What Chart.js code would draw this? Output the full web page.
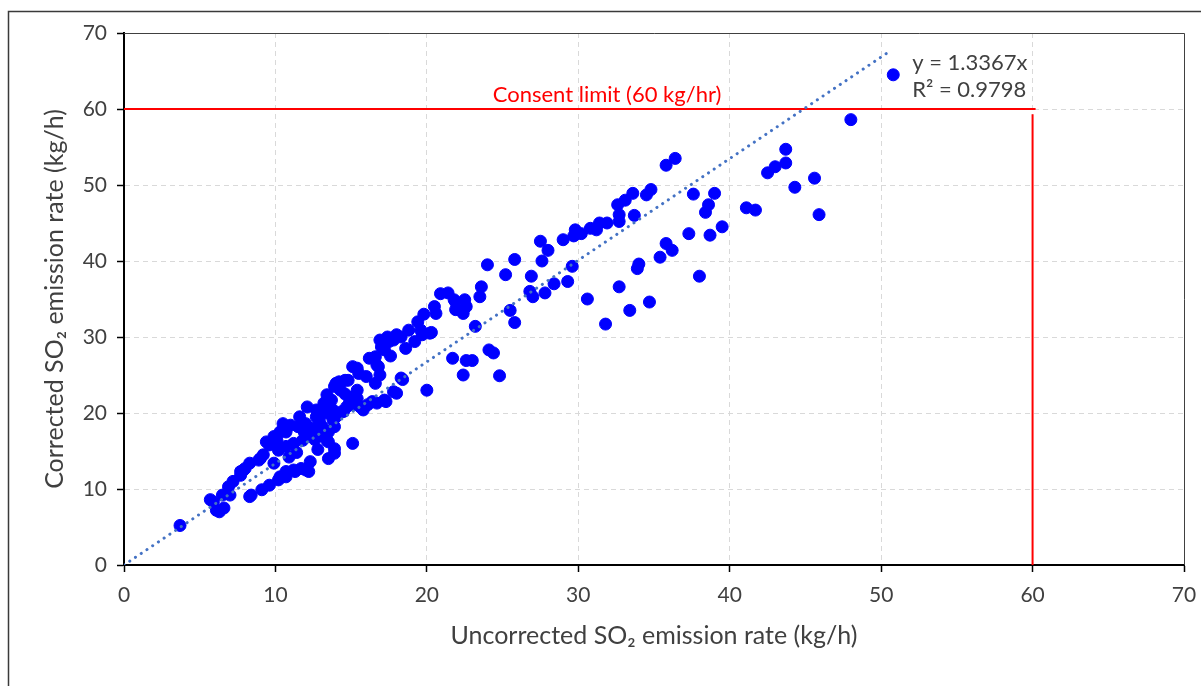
<!DOCTYPE html>
<html><head><meta charset="utf-8">
<script src="https://cdn.jsdelivr.net/npm/chart.js@4.4.1/dist/chart.umd.min.js"></script>
<style>
html,body{margin:0;padding:0;background:#fff;overflow:hidden;}
#wrap{position:relative;width:1201px;height:686px;}
</style></head><body>
<div id="wrap"><canvas id="c"></canvas></div>
<script>
// Uncorrected SO2 emission rate (kg/h)
const uncorrected = [3.7,5.7,5.9,6.1,6.3,6.6,6.5,6.9,7.0,7.2,7.7,7.7,7.9,8.0,8.3,8.3,8.4,8.9,9.0,9.1,9.2,9.4,9.6,9.6,9.9,9.9,
10.2,10.3,10.2,10.3,10.1,10.5,10.7,10.7,10.7,10.7,11.0,11.2,11.2,11.3,11.5,11.6,11.7,11.8,12.0,12.0,12.1,12.2,12.3,12.3,12.7,12.7,
13.1,13.1,13.2,13.4,13.4,13.4,13.5,13.5,13.5,13.7,13.8,13.9,13.9,13.9,13.9,14.2,14.3,14.4,14.7,14.8,15.1,15.1,15.1,15.1,15.4,15.5,
15.6,15.8,16.1,16.2,16.6,16.6,16.7,16.7,17.0,17.1,17.2,17.2,17.5,17.8,17.8,18.0,18.3,18.3,18.4,18.8,19.4,19.6,19.7,19.8,20.0,20.3,
20.5,20.6,20.9,21.4,21.7,21.8,21.9,21.9,22.4,22.4,22.5,22.6,22.6,23.0,23.2,23.5,23.6,24.0,24.1,24.4,24.8,25.2,25.5,25.8,25.8,26.8,
26.9,27.0,27.5,27.6,27.8,28.0,28.4,29.0,29.3,29.6,29.7,29.8,30.2,30.6,30.8,31.2,31.4,31.8,31.9,32.6,32.7,32.7,32.7,33.1,33.4,33.6,
33.7,33.9,34.0,34.5,34.7,34.8,35.4,35.8,35.8,36.2,36.4,37.3,37.6,38.0,38.4,38.6,38.7,39.0,39.5,41.1,41.7,42.5,43.0,43.7,43.7,44.3,
45.6,45.9,48.0,50.8,
12.5,12.9,11.9,13.0,14.0,12.6,11.4,10.9,12.8,14.6,16.0,15.4,16.9,17.6,18.6,19.2,
16.9,17.4,18.0,20.2,14.5,13.8,15.4,16.4,17.3,14.9,16.8,14.0,14.6];
// Corrected SO2 emission rate (kg/h)
const corrected = [5.2,8.6,8.3,7.2,7.0,7.5,9.2,10.3,9.2,11.0,11.8,12.3,12.5,12.7,13.4,9.0,9.2,13.8,14.0,9.9,14.5,16.2,10.5,15.8,16.9,13.4,
11.2,11.6,15.1,17.5,16.4,18.6,11.6,12.3,15.6,17.5,18.4,12.5,16.0,12.3,18.2,19.5,12.7,16.4,12.5,18.6,20.8,12.3,13.6,17.3,19.5,20.4,
18.2,20.6,21.3,22.4,16.4,20.0,14.0,16.2,17.5,21.7,20.4,14.7,15.3,18.2,23.5,24.1,23.0,20.2,20.8,24.3,16.0,21.1,22.1,26.1,25.9,25.2,
20.8,20.4,21.1,27.2,27.4,23.9,21.3,26.3,28.7,29.4,28.3,21.7,29.4,29.6,22.8,22.6,24.6,30.0,24.4,30.9,32.0,30.9,30.3,33.0,23.0,30.6,
34.0,33.1,35.7,35.8,27.2,34.9,33.6,34.6,33.1,25.0,34.9,34.0,26.9,26.9,31.4,35.3,36.6,39.5,28.3,27.9,24.9,38.2,33.5,31.9,40.2,36.0,
38.0,35.3,42.6,40.0,35.8,41.4,37.0,42.8,37.3,39.3,43.3,44.1,43.6,35.0,44.3,44.1,45.0,31.7,45.0,47.4,46.1,45.2,36.6,48.0,33.5,48.9,
46.0,39.0,39.6,48.7,34.6,49.4,40.5,42.3,52.6,41.4,53.5,43.6,48.8,38.0,46.4,47.4,43.4,48.9,44.5,47.0,46.7,51.6,52.4,52.9,54.7,49.7,
50.9,46.1,58.6,64.5,
18.0,19.0,17.5,17.0,19.5,16.5,14.8,14.2,15.2,22.5,24.8,23.0,25.0,27.5,28.5,29.4,
29.6,30.0,30.3,30.5,20.2,19.1,21.9,21.5,21.5,21.5,26.1,23.9,24.3];

const trendSlope = 1.3367;          // from the chart's trendline label
const trendX = [0, 50.4];           // extent of the drawn trendline
const consentLimit = 60;            // kg/hr
const limitLineEnd = 60.2;
const limitVerticalTop = 59.3;
const axisTicks = [0, 10, 20, 30, 40, 50, 60, 70];

const xTitle = 'Uncorrected SO\u2082 emission rate (kg/h)';
const yTitle = 'Corrected SO\u2082 emission rate (kg/h)';
const limitLabel = 'Consent limit (60 kg/hr)';
const eqLabels = ['y = 1.3367x', 'R\u00b2 = 0.9798'];

const TEXT = '#404040';
const FONT = 'Lato';

const points = uncorrected.map((x, i) => ({x: x, y: corrected[i]}));
const trendPts = trendX.map(x => ({x: x, y: x * trendSlope}));

const decor = {
  id: 'decor',
  beforeDraw(chart) {
    const ctx = chart.ctx;
    ctx.save();
    ctx.fillStyle = '#fff';
    ctx.fillRect(0, 0, chart.width, chart.height);
    ctx.strokeStyle = '#3a3a3a';
    ctx.lineWidth = 1.5;
    ctx.beginPath();
    ctx.moveTo(8.5, chart.height + 2);
    ctx.lineTo(8.5, 11.5);
    ctx.lineTo(chart.width + 2, 11.5);
    ctx.stroke();
    ctx.restore();
  },
  afterDraw(chart) {
    const ctx = chart.ctx;
    const a = chart.chartArea;
    const xs = chart.scales.x, ys = chart.scales.y;
    ctx.save();
    ctx.strokeStyle = '#404040';
    ctx.lineWidth = 1;
    ctx.beginPath();
    ctx.moveTo(a.left, Math.round(a.top) + 0.5);
    ctx.lineTo(Math.round(a.right) + 0.5, Math.round(a.top) + 0.5);
    ctx.lineTo(Math.round(a.right) + 0.5, a.bottom);
    ctx.stroke();
    const ly = ys.getPixelForValue(consentLimit);
    ctx.fillStyle = '#ff0000';
    ctx.font = '22px ' + FONT;
    ctx.textAlign = 'center';
    ctx.textBaseline = 'middle';
    ctx.fillText(limitLabel, xs.getPixelForValue(31.9), ly - 14);
    ctx.fillStyle = TEXT;
    ctx.textAlign = 'left';
    ctx.font = '22px ' + FONT;
    const ex = xs.getPixelForValue(52.05);
    ctx.fillText(eqLabels[0], ex, ly - 46);
    ctx.fillText(eqLabels[1], ex, ly - 19);
    ctx.restore();
  }
};

new Chart(document.getElementById('c'), {
  type: 'scatter',
  data: {
    datasets: [
      {
        label: 'Linear trend',
        data: trendPts,
        showLine: true,
        borderColor: '#4472C4',
        borderWidth: 3,
        borderDash: [0.1, 6.8],
        borderCapStyle: 'round',
        pointRadius: 0,
        fill: false
      },
      {
        label: 'Consent limit',
        data: [{x: 0, y: consentLimit}, {x: limitLineEnd, y: consentLimit}],
        showLine: true,
        borderColor: '#ff0000',
        borderWidth: 2,
        pointRadius: 0
      },
      {
        label: 'Consent limit x',
        data: [{x: consentLimit, y: 0}, {x: consentLimit, y: limitVerticalTop}],
        showLine: true,
        borderColor: '#ff0000',
        borderWidth: 2,
        pointRadius: 0
      },
      {
        label: 'SO2',
        data: points,
        backgroundColor: '#0000ff',
        borderColor: '#0000ff',
        borderWidth: 1,
        pointRadius: 6,
        pointHoverRadius: 6
      }
    ]
  },
  options: {
    responsive: true,
    maintainAspectRatio: false,
    animation: false,
    devicePixelRatio: 1,
    layout: { padding: { top: 33, right: 17, left: 0, bottom: 0 } },
    plugins: { legend: { display: false }, tooltip: { enabled: false } },
    scales: {
      x: {
        type: 'linear', min: 0, max: 70,
        afterBuildTicks: s => { s.ticks = axisTicks.map(v => ({value: v})); },
        ticks: { font: {family: FONT, size: 21}, color: TEXT, padding: 11, maxRotation: 0, autoSkip: false },
        grid: { color: '#d9d9d9', lineWidth: 1, tickLength: 7, tickColor: '#000', tickWidth: 1.5 },
        border: { color: '#000', width: 2, dash: [5, 4] },
        title: { display: true, text: xTitle, font: {family: FONT, size: 25}, color: TEXT, padding: {top: 0, bottom: 35} },
        afterFit: s => { s.height = 121; s.paddingLeft = 0; s.paddingRight = 0; }
      },
      y: {
        type: 'linear', min: 0, max: 70,
        afterBuildTicks: s => { s.ticks = axisTicks.map(v => ({value: v})); },
        ticks: { font: {family: FONT, size: 21}, color: TEXT, padding: 10, autoSkip: false },
        grid: { color: '#d9d9d9', lineWidth: 1, tickLength: 7, tickColor: '#000', tickWidth: 1.5 },
        border: { color: '#000', width: 2, dash: [5, 4] },
        title: { display: true, text: yTitle, font: {family: FONT, size: 25}, color: TEXT, padding: {top: 40, bottom: 0} },
        afterFit: s => { s.width = 124; s.paddingTop = 0; s.paddingBottom = 0; }
      }
    }
  },
  plugins: [decor]
});
</script>
</body></html>
